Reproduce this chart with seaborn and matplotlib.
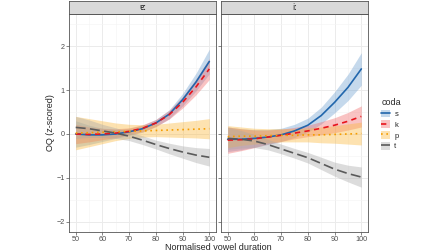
import matplotlib
matplotlib.use("Agg")
import matplotlib.pyplot as plt
from matplotlib.lines import Line2D
from matplotlib.patches import Patch
from matplotlib.ticker import MultipleLocator
import pandas as pd
import seaborn as sns

# ---- data ----
duration = [50, 55, 60, 65, 70, 75, 80, 85, 90, 95, 100]
vowels = ['ɐː', 'iː']
codas = ['s', 'k', 'p', 't']

# vowel ɐː
a_s = [0.0, -0.02, -0.02, 0.0, 0.05, 0.12, 0.25, 0.45, 0.78, 1.18, 1.65]
a_s_se = [0.3, 0.22, 0.15, 0.1, 0.08, 0.08, 0.08, 0.1, 0.14, 0.2, 0.28]
a_k = [0.0, -0.01, 0.0, 0.02, 0.06, 0.13, 0.25, 0.44, 0.72, 1.07, 1.48]
a_k_se = [0.22, 0.17, 0.13, 0.1, 0.08, 0.08, 0.08, 0.1, 0.13, 0.18, 0.24]
a_p = [0.02, 0.03, 0.04, 0.05, 0.06, 0.07, 0.08, 0.09, 0.10, 0.11, 0.12]
a_p_se = [0.38, 0.32, 0.26, 0.2, 0.16, 0.14, 0.14, 0.16, 0.18, 0.2, 0.23]
a_t = [0.15, 0.12, 0.07, 0.02, -0.05, -0.14, -0.24, -0.33, -0.41, -0.48, -0.53]
a_t_se = [0.25, 0.2, 0.15, 0.12, 0.1, 0.1, 0.1, 0.12, 0.14, 0.17, 0.2]

# vowel iː
i_s = [-0.12, -0.12, -0.1, -0.07, -0.02, 0.07, 0.2, 0.42, 0.72, 1.06, 1.48]
i_s_se = [0.28, 0.24, 0.2, 0.17, 0.15, 0.15, 0.16, 0.19, 0.24, 0.3, 0.37]
i_k = [-0.14, -0.13, -0.11, -0.07, -0.03, 0.02, 0.07, 0.13, 0.2, 0.29, 0.4]
i_k_se = [0.3, 0.25, 0.2, 0.16, 0.14, 0.13, 0.13, 0.15, 0.17, 0.2, 0.24]
i_p = [-0.06, -0.05, -0.05, -0.04, -0.03, -0.03, -0.02, -0.02, -0.01, 0.0, 0.01]
i_p_se = [0.25, 0.21, 0.18, 0.16, 0.15, 0.15, 0.16, 0.18, 0.2, 0.23, 0.26]
i_t = [-0.1, -0.12, -0.16, -0.24, -0.34, -0.44, -0.54, -0.67, -0.8, -0.9, -0.98]
i_t_se = [0.25, 0.2, 0.15, 0.12, 0.11, 0.11, 0.12, 0.14, 0.16, 0.19, 0.23]

series = {
    ('ɐː', 's'): (a_s, a_s_se), ('ɐː', 'k'): (a_k, a_k_se),
    ('ɐː', 'p'): (a_p, a_p_se), ('ɐː', 't'): (a_t, a_t_se),
    ('iː', 's'): (i_s, i_s_se), ('iː', 'k'): (i_k, i_k_se),
    ('iː', 'p'): (i_p, i_p_se), ('iː', 't'): (i_t, i_t_se),
}

rows = []
for (vowel, coda), (fit, se) in series.items():
    for d, f, e in zip(duration, fit, se):
        rows.append({'vowel': vowel, 'coda': coda, 'duration': d,
                     'oq': f, 'lower': f - e, 'upper': f + e})
df = pd.DataFrame(rows)

palette = {'s': '#2166ac', 'k': '#e8141c', 'p': '#f59d00', 't': '#5a5a5a'}
fills = {'s': '#6fa0d0', 'k': '#f26a6a', 'p': '#fbb73a', 't': '#a8a8a8'}
dashes = {'s': '', 'k': (3.2, 2.6), 'p': (1, 2.2), 't': (6, 2.6)}
band_alpha = 0.4

sns.set_style('white')
plt.rcParams['font.family'] = ['Liberation Sans', 'DejaVu Sans']

fig = plt.figure(figsize=(4.48, 2.52), dpi=100)
panels = [(69, 216), (221, 368)]
bottom, top = 232, 14
W, H = 448, 252

for (x0, x1), vowel in zip(panels, vowels):
    ax = fig.add_axes([x0 / W, 1 - bottom / H, (x1 - x0) / W, (bottom - top) / H])
    sub = df[df.vowel == vowel]
    for coda in codas:
        d = sub[sub.coda == coda]
        ax.fill_between(d.duration, d.lower, d.upper, color=fills[coda],
                        alpha=band_alpha, lw=0, zorder=2)
    sns.lineplot(data=sub, x='duration', y='oq', hue='coda', style='coda',
                 hue_order=codas, style_order=codas, palette=palette,
                 dashes=dashes, lw=1.2, errorbar=None, legend=False, ax=ax,
                 zorder=3)
    ax.set_xlim(47.5, 102.5)
    ax.set_ylim(-2.23, 2.73)
    ax.xaxis.set_major_locator(MultipleLocator(10))
    ax.xaxis.set_minor_locator(MultipleLocator(5))
    ax.yaxis.set_major_locator(MultipleLocator(1))
    ax.yaxis.set_minor_locator(MultipleLocator(0.5))
    ax.grid(True, which='major', color='#ebebeb', lw=0.7, zorder=0)
    ax.grid(True, which='minor', color='#f4f4f4', lw=0.4, zorder=0)
    ax.set_axisbelow(True)
    for sp in ax.spines.values():
        sp.set_color('#555555')
        sp.set_linewidth(0.6)
    ax.tick_params(which='major', length=2, width=0.5, color='#555555',
                   labelsize=5.2, labelcolor='#4d4d4d', pad=1,
                   bottom=True, left=True)
    ax.tick_params(which='minor', length=0)
    ax.set_xlabel('')
    ax.set_ylabel('')
    if x0 != panels[0][0]:
        ax.set_yticklabels([])

    # facet strip
    sax = fig.add_axes([x0 / W, 1 - top / H, (x1 - x0) / W, 13 / H])
    sax.set_facecolor('#d9d9d9')
    sax.set_xticks([])
    sax.set_yticks([])
    for sp in sax.spines.values():
        sp.set_color('#555555')
        sp.set_linewidth(0.6)
    sax.text(0.5, 0.5, vowel, ha='center', va='center', fontsize=5.5,
             color='#1a1a1a', transform=sax.transAxes,
             family=['DejaVu Sans'])

fig.text(218 / W, 1 - 248 / H, 'Normalised vowel duration', ha='center',
         va='center', fontsize=6.5)
fig.text(50 / W, 1 - 123 / H, 'OQ (z-scored)', ha='center', va='center',
         rotation=90, fontsize=6.5)

handles = [(Patch(facecolor=fills[c], alpha=band_alpha, lw=0),
            Line2D([], [], color=palette[c], lw=1.2,
                   dashes=dashes[c] if dashes[c] else (None, None)))
           for c in codas]
leg = fig.legend(handles, codas, title='coda', loc='upper left',
                 bbox_to_anchor=(376 / W, 1 - 93 / H), frameon=False,
                 fontsize=5.5, title_fontsize=6.5, handlelength=1.1,
                 handleheight=1.2, labelspacing=0.3, handletextpad=0.6,
                 alignment='left', borderpad=0.2)

fig.savefig('out.png', dpi=100)
